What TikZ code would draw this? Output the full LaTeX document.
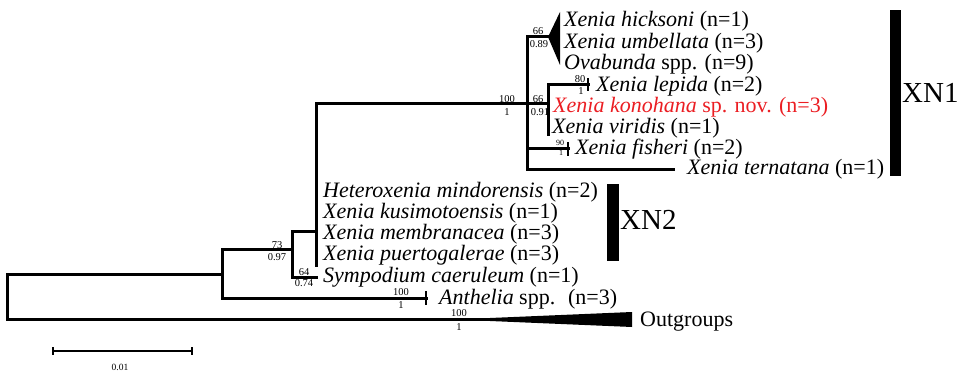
\documentclass[tikz,border=0pt]{standalone}
\usepackage{fontspec}
\setmainfont{Liberation Serif}
\begin{document}
\begin{tikzpicture}[x=1pt,y=-1pt,
  br/.style={line width=3pt, line cap=rect},
  tickln/.style={line width=2.2pt},
  leaf/.style={anchor=base west, inner sep=0pt, font=\fontsize{22}{22}\selectfont},
  supl/.style={inner sep=0pt, font=\fontsize{10.5}{10.5}\selectfont},
  supsm/.style={inner sep=0pt, font=\fontsize{8}{8}\selectfont},
  cladebar/.style={fill=black, inner sep=0pt, anchor=north west},
  cladelab/.style={anchor=base west, inner sep=0pt, font=\fontsize{29}{29}\selectfont}
]
\useasboundingbox (0,0) rectangle (963,371);

% tree node coordinates
\coordinate (r)   at (7,274);
\coordinate (rb)  at (7,319.5);
\coordinate (n1)  at (222,250);
\coordinate (n1m) at (222,274);
\coordinate (n1b) at (222,298);
\coordinate (n2)  at (292,232);
\coordinate (n2m) at (292,250);
\coordinate (n2b) at (292,277);
\coordinate (n3)  at (316,103.5);
\coordinate (n3m) at (316,232);
\coordinate (n3b) at (316,265);
\coordinate (n4)  at (527,37);
\coordinate (n4m) at (527,103.5);
\coordinate (n4f) at (527,149);
\coordinate (n4b) at (527,170);
\coordinate (n5)  at (548,85);
\coordinate (n5m) at (548,103.5);
\coordinate (n5b) at (548,135);
\coordinate (tA)  at (548,37);
\coordinate (tLep) at (588,85);
\coordinate (tFis) at (568,149);
\coordinate (tTer) at (673,170);
\coordinate (tSym) at (316,277);
\coordinate (tAnt) at (426,298);
\coordinate (tOut) at (490,319.5);

% branches
\draw[br] (r) -- (rb);
\draw[br] (r) -- (n1m);
\draw[br] (n1) -- (n1b);
\draw[br] (n1) -- (n2m);
\draw[br] (n2) -- (n2b);
\draw[br] (n2) -- (n3m);
\draw[br] (n2b) -- (tSym);
\draw[br] (n3) -- (n3b);
\draw[br] (n3) -- (n4m);
\draw[br] (n4) -- (n4b);
\draw[br] (n4m) -- (n5m);
\draw[br] (n4) -- (tA);
\draw[br] (n5) -- (n5b);
\draw[br] (n5) -- (tLep);
\draw[br] (n4f) -- (tFis);
\draw[br] (n4b) -- (tTer);
\draw[br] (n1b) -- (tAnt);
\draw[br] (rb) -- (tOut);

% terminal ticks
\draw[tickln] (tLep) ++(0,-6.5) -- ++(0,13);
\draw[tickln] (tFis) ++(0,-7) -- ++(0,14);
\draw[tickln] (tAnt) ++(0,-7) -- ++(0,14);

% collapsed clades
\fill (tA) -- (560,12) -- (560,65) -- cycle;
\fill (tOut) ++(0,-1.5) -- (632,312) -- (632,327) -- (490,321) -- cycle;

% leaf labels
\node[leaf] (hic) at (564,27)  {\textit{Xenia hicksoni} (n=1)};
\node[leaf] (umb) at (564,48.5) {\textit{Xenia umbellata} (n=3)};
\node[leaf] (ova) at (564,70)  {\textit{Ovabunda} spp. (n=9)};
\node[leaf] (lep) at (596,91.5) {\textit{Xenia lepida} (n=2)};
\node[leaf, text={rgb,255:red,235;green,30;blue,35}] (kon) at (553,112.5) {\textit{Xenia konohana} sp. nov. (n=3)};
\node[leaf] (vir) at (552,133.5) {\textit{Xenia viridis} (n=1)};
\node[leaf] (fis) at (575,155) {\textit{Xenia fisheri} (n=2)};
\node[leaf] (ter) at (687,175) {\textit{Xenia ternatana} (n=1)};
\node[leaf] (het) at (323,197.5) {\textit{Heteroxenia mindorensis} (n=2)};
\node[leaf] (kus) at (323,218.5) {\textit{Xenia kusimotoensis} (n=1)};
\node[leaf] (mem) at (323,239.5) {\textit{Xenia membranacea} (n=3)};
\node[leaf] (pue) at (323,260.5) {\textit{Xenia puertogalerae} (n=3)};
\node[leaf] (sym) at (323,282)  {\textit{Sympodium caeruleum} (n=1)};
\node[leaf] (ant) at (439,304)  {\textit{Anthelia} spp.~ (n=3)};
\node[leaf] (out) at (640,326)  {Outgroups};

% support values
\node[supl] (s1a) at (538,31) {66};
\node[supl] (s1b) at (539,44) {0.89};
\node[supl] (s2a) at (507,99) {100};
\node[supl] (s2b) at (507,112) {1};
\node[supl] (s3a) at (538,99.5) {66};
\node[supl] (s3b) at (540,112) {0.91};
\node[supl] (s4a) at (580,79) {80};
\node[supl] (s4b) at (581,91) {1};
\node[supsm] (s5a) at (560,143) {90};
\node[supsm] (s5b) at (561,153) {1};
\node[supl] (s6a) at (277,245) {73};
\node[supl] (s6b) at (277,257) {0.97};
\node[supl] (s7a) at (304,272) {64};
\node[supl] (s7b) at (304,283) {0.74};
\node[supl] (s8a) at (401,292.5) {100};
\node[supl] (s8b) at (401,305) {1};
\node[supl] (s9a) at (459,313.5) {100};
\node[supl] (s9b) at (459,327) {1};

% clade bars
\node[cladebar, minimum width=11pt, minimum height=166pt] (xn1bar) at (890,10) {};
\node[cladelab] (xn1) at (902,103) {XN1};
\node[cladebar, minimum width=12pt, minimum height=77pt] (xn2bar) at (607,184) {};
\node[cladelab] (xn2) at (620,230) {XN2};

% scale bar
\coordinate (sbl) at (53,351);
\coordinate (sbr) at (192,351);
\draw[line width=2.5pt] (sbl) -- (sbr);
\draw[line width=2pt] (sbl) ++(0,-4) -- ++(0,8);
\draw[line width=2pt] (sbr) ++(0,-4) -- ++(0,8);
\node[supl, font=\fontsize{9.5}{9.5}\selectfont] (sblab) at (120,367) {0.01};
\end{tikzpicture}
\end{document}
